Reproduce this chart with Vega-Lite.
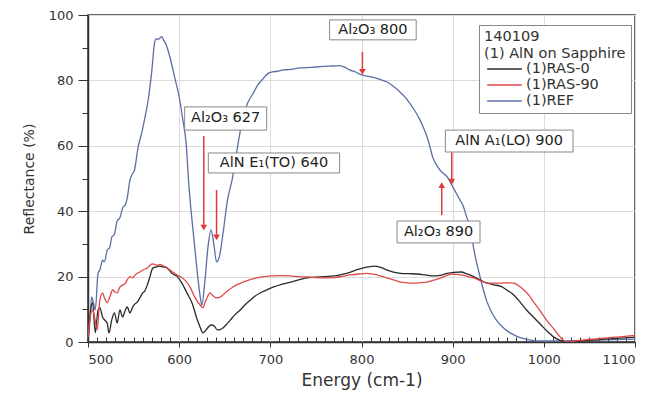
{
  "$schema": "https://vega.github.io/schema/vega-lite/v6.json",
  "width": 547,
  "height": 327,
  "autosize": {"type": "none"},
  "padding": {"left": 88, "top": 15, "right": 33, "bottom": 54},
  "background": "white",
  "config": {
    "font": "DejaVu Sans",
    "view": {"stroke": "#333", "strokeWidth": 1.5},
    "axis": {"labelFont": "DejaVu Sans", "titleFont": "DejaVu Sans", "labelColor": "#333", "titleColor": "#333", "labelFontSize": 13, "titleFontSize": 14, "titleFontWeight": "normal", "domainColor": "#333", "tickColor": "#333", "gridColor": "#dcdcdc", "domainWidth": 1.5}
  },
  "datasets": {
    "curves": [
      {"s":"(1)REF","x":500,"y":0.5},{"s":"(1)REF","x":502,"y":6},{"s":"(1)REF","x":504,"y":13.8},{"s":"(1)REF","x":506,"y":12},{"s":"(1)REF","x":508,"y":9.8},{"s":"(1)REF","x":511,"y":21},{"s":"(1)REF","x":513,"y":22},{"s":"(1)REF","x":516,"y":25},{"s":"(1)REF","x":518,"y":24.5},{"s":"(1)REF","x":521,"y":28},{"s":"(1)REF","x":524,"y":29},{"s":"(1)REF","x":526,"y":32},{"s":"(1)REF","x":529,"y":33},{"s":"(1)REF","x":532,"y":37},{"s":"(1)REF","x":535,"y":38},{"s":"(1)REF","x":538,"y":41},{"s":"(1)REF","x":541,"y":42},{"s":"(1)REF","x":543,"y":44},{"s":"(1)REF","x":546,"y":49.5},{"s":"(1)REF","x":548,"y":51},{"s":"(1)REF","x":551,"y":52.6},{"s":"(1)REF","x":555,"y":59.6},{"s":"(1)REF","x":559,"y":64},{"s":"(1)REF","x":562,"y":68},{"s":"(1)REF","x":566,"y":74},{"s":"(1)REF","x":570,"y":83},{"s":"(1)REF","x":573,"y":91.5},{"s":"(1)REF","x":575,"y":92.8},{"s":"(1)REF","x":577,"y":92.5},{"s":"(1)REF","x":579,"y":93},{"s":"(1)REF","x":581,"y":93.4},{"s":"(1)REF","x":583,"y":92.3},{"s":"(1)REF","x":585,"y":91.4},{"s":"(1)REF","x":590,"y":87},{"s":"(1)REF","x":595,"y":81},{"s":"(1)REF","x":600,"y":75},{"s":"(1)REF","x":604,"y":68},{"s":"(1)REF","x":608,"y":59.6},{"s":"(1)REF","x":610,"y":50.5},{"s":"(1)REF","x":612,"y":43.4},{"s":"(1)REF","x":616,"y":32},{"s":"(1)REF","x":620,"y":21},{"s":"(1)REF","x":623,"y":14},{"s":"(1)REF","x":625,"y":11.3},{"s":"(1)REF","x":628,"y":18},{"s":"(1)REF","x":632,"y":30},{"s":"(1)REF","x":635,"y":34.3},{"s":"(1)REF","x":638,"y":30},{"s":"(1)REF","x":641,"y":24.5},{"s":"(1)REF","x":644,"y":26},{"s":"(1)REF","x":648,"y":33},{"s":"(1)REF","x":653,"y":43.4},{"s":"(1)REF","x":658,"y":49.5},{"s":"(1)REF","x":664,"y":59.6},{"s":"(1)REF","x":670,"y":68.8},{"s":"(1)REF","x":675,"y":73},{"s":"(1)REF","x":681,"y":76},{"s":"(1)REF","x":686,"y":78.5},{"s":"(1)REF","x":692,"y":80.5},{"s":"(1)REF","x":697,"y":82},{"s":"(1)REF","x":702,"y":82.6},{"s":"(1)REF","x":708,"y":82.8},{"s":"(1)REF","x":714,"y":83.2},{"s":"(1)REF","x":720,"y":83.3},{"s":"(1)REF","x":732,"y":83.8},{"s":"(1)REF","x":745,"y":84},{"s":"(1)REF","x":755,"y":84.2},{"s":"(1)REF","x":769,"y":84.4},{"s":"(1)REF","x":776,"y":84.5},{"s":"(1)REF","x":782,"y":84},{"s":"(1)REF","x":787,"y":83.2},{"s":"(1)REF","x":794,"y":82.5},{"s":"(1)REF","x":800,"y":81.7},{"s":"(1)REF","x":806,"y":81.3},{"s":"(1)REF","x":812,"y":81},{"s":"(1)REF","x":820,"y":80.3},{"s":"(1)REF","x":828,"y":79.5},{"s":"(1)REF","x":835,"y":78.2},{"s":"(1)REF","x":842,"y":76.5},{"s":"(1)REF","x":848,"y":74.8},{"s":"(1)REF","x":853,"y":73},{"s":"(1)REF","x":859,"y":70.5},{"s":"(1)REF","x":864,"y":68},{"s":"(1)REF","x":868,"y":65.5},{"s":"(1)REF","x":872,"y":62.7},{"s":"(1)REF","x":875,"y":59.8},{"s":"(1)REF","x":878,"y":56.6},{"s":"(1)REF","x":882,"y":54.3},{"s":"(1)REF","x":886,"y":52.6},{"s":"(1)REF","x":890,"y":51.5},{"s":"(1)REF","x":894,"y":50.5},{"s":"(1)REF","x":897,"y":49},{"s":"(1)REF","x":900,"y":47.5},{"s":"(1)REF","x":904,"y":45.5},{"s":"(1)REF","x":908,"y":43.4},{"s":"(1)REF","x":911,"y":42},{"s":"(1)REF","x":915,"y":38.5},{"s":"(1)REF","x":919,"y":35},{"s":"(1)REF","x":924,"y":27.2},{"s":"(1)REF","x":930,"y":20},{"s":"(1)REF","x":937,"y":12.8},{"s":"(1)REF","x":942,"y":9.5},{"s":"(1)REF","x":948,"y":6.7},{"s":"(1)REF","x":955,"y":4.5},{"s":"(1)REF","x":963,"y":2.8},{"s":"(1)REF","x":970,"y":1.8},{"s":"(1)REF","x":978,"y":1},{"s":"(1)REF","x":985,"y":0.6},{"s":"(1)REF","x":1000,"y":0.3},{"s":"(1)REF","x":1010,"y":0.3},{"s":"(1)REF","x":1030,"y":0.4},{"s":"(1)REF","x":1060,"y":0.6},{"s":"(1)REF","x":1100,"y":0.9},
      {"s":"(1)RAS-0","x":500,"y":0},{"s":"(1)RAS-0","x":502,"y":7.6},{"s":"(1)RAS-0","x":505,"y":12},{"s":"(1)RAS-0","x":508,"y":2.8},{"s":"(1)RAS-0","x":511,"y":9.8},{"s":"(1)RAS-0","x":513,"y":10.5},{"s":"(1)RAS-0","x":516,"y":7.6},{"s":"(1)RAS-0","x":519,"y":6.5},{"s":"(1)RAS-0","x":521,"y":5.8},{"s":"(1)RAS-0","x":523,"y":2.8},{"s":"(1)RAS-0","x":526,"y":6.7},{"s":"(1)RAS-0","x":529,"y":8.9},{"s":"(1)RAS-0","x":532,"y":5.8},{"s":"(1)RAS-0","x":535,"y":9.8},{"s":"(1)RAS-0","x":538,"y":7.6},{"s":"(1)RAS-0","x":540,"y":9},{"s":"(1)RAS-0","x":543,"y":10.7},{"s":"(1)RAS-0","x":546,"y":8.9},{"s":"(1)RAS-0","x":549,"y":10.7},{"s":"(1)RAS-0","x":551,"y":11.5},{"s":"(1)RAS-0","x":554,"y":12.2},{"s":"(1)RAS-0","x":557,"y":13.5},{"s":"(1)RAS-0","x":560,"y":15},{"s":"(1)RAS-0","x":562,"y":15.5},{"s":"(1)RAS-0","x":565,"y":17.4},{"s":"(1)RAS-0","x":568,"y":20},{"s":"(1)RAS-0","x":571,"y":22.6},{"s":"(1)RAS-0","x":575,"y":23},{"s":"(1)RAS-0","x":578,"y":23.2},{"s":"(1)RAS-0","x":581,"y":23},{"s":"(1)RAS-0","x":584,"y":22.9},{"s":"(1)RAS-0","x":587,"y":22.6},{"s":"(1)RAS-0","x":592,"y":21},{"s":"(1)RAS-0","x":598,"y":20},{"s":"(1)RAS-0","x":603,"y":18},{"s":"(1)RAS-0","x":608,"y":15.3},{"s":"(1)RAS-0","x":614,"y":12},{"s":"(1)RAS-0","x":620,"y":6.7},{"s":"(1)RAS-0","x":623,"y":4.5},{"s":"(1)RAS-0","x":626,"y":2.8},{"s":"(1)RAS-0","x":629,"y":3.5},{"s":"(1)RAS-0","x":632,"y":4.6},{"s":"(1)RAS-0","x":635,"y":5.2},{"s":"(1)RAS-0","x":638,"y":5},{"s":"(1)RAS-0","x":642,"y":3.7},{"s":"(1)RAS-0","x":645,"y":3.8},{"s":"(1)RAS-0","x":648,"y":4.3},{"s":"(1)RAS-0","x":652,"y":5.4},{"s":"(1)RAS-0","x":656,"y":6.7},{"s":"(1)RAS-0","x":661,"y":8.3},{"s":"(1)RAS-0","x":667,"y":9.8},{"s":"(1)RAS-0","x":672,"y":11.3},{"s":"(1)RAS-0","x":678,"y":12.8},{"s":"(1)RAS-0","x":683,"y":14},{"s":"(1)RAS-0","x":689,"y":15},{"s":"(1)RAS-0","x":695,"y":15.8},{"s":"(1)RAS-0","x":703,"y":16.8},{"s":"(1)RAS-0","x":712,"y":17.6},{"s":"(1)RAS-0","x":722,"y":18.3},{"s":"(1)RAS-0","x":731,"y":19},{"s":"(1)RAS-0","x":740,"y":19.6},{"s":"(1)RAS-0","x":750,"y":19.8},{"s":"(1)RAS-0","x":760,"y":20},{"s":"(1)RAS-0","x":770,"y":20.2},{"s":"(1)RAS-0","x":779,"y":20.7},{"s":"(1)RAS-0","x":788,"y":21.4},{"s":"(1)RAS-0","x":795,"y":22.1},{"s":"(1)RAS-0","x":801,"y":22.6},{"s":"(1)RAS-0","x":808,"y":23},{"s":"(1)RAS-0","x":814,"y":23.2},{"s":"(1)RAS-0","x":821,"y":22.8},{"s":"(1)RAS-0","x":828,"y":22},{"s":"(1)RAS-0","x":835,"y":21.4},{"s":"(1)RAS-0","x":843,"y":21},{"s":"(1)RAS-0","x":852,"y":20.9},{"s":"(1)RAS-0","x":861,"y":20.8},{"s":"(1)RAS-0","x":870,"y":20.5},{"s":"(1)RAS-0","x":879,"y":20.2},{"s":"(1)RAS-0","x":886,"y":20.4},{"s":"(1)RAS-0","x":894,"y":21},{"s":"(1)RAS-0","x":901,"y":21.3},{"s":"(1)RAS-0","x":909,"y":21.4},{"s":"(1)RAS-0","x":916,"y":20.8},{"s":"(1)RAS-0","x":923,"y":20},{"s":"(1)RAS-0","x":930,"y":19},{"s":"(1)RAS-0","x":938,"y":18},{"s":"(1)RAS-0","x":945,"y":17.5},{"s":"(1)RAS-0","x":953,"y":17},{"s":"(1)RAS-0","x":960,"y":15.8},{"s":"(1)RAS-0","x":967,"y":14.4},{"s":"(1)RAS-0","x":974,"y":12.2},{"s":"(1)RAS-0","x":981,"y":9.8},{"s":"(1)RAS-0","x":989,"y":7.5},{"s":"(1)RAS-0","x":997,"y":5.2},{"s":"(1)RAS-0","x":1004,"y":3.2},{"s":"(1)RAS-0","x":1011,"y":1.5},{"s":"(1)RAS-0","x":1018,"y":0.5},{"s":"(1)RAS-0","x":1025,"y":0},{"s":"(1)RAS-0","x":1040,"y":0.3},{"s":"(1)RAS-0","x":1060,"y":0.7},{"s":"(1)RAS-0","x":1080,"y":1.1},{"s":"(1)RAS-0","x":1100,"y":1.5},
      {"s":"(1)RAS-90","x":500,"y":1.5},{"s":"(1)RAS-90","x":502,"y":6.7},{"s":"(1)RAS-90","x":505,"y":9.8},{"s":"(1)RAS-90","x":507,"y":8},{"s":"(1)RAS-90","x":510,"y":3.7},{"s":"(1)RAS-90","x":513,"y":12.8},{"s":"(1)RAS-90","x":516,"y":15},{"s":"(1)RAS-90","x":518,"y":13.5},{"s":"(1)RAS-90","x":521,"y":12},{"s":"(1)RAS-90","x":524,"y":13.8},{"s":"(1)RAS-90","x":527,"y":15.9},{"s":"(1)RAS-90","x":530,"y":15.2},{"s":"(1)RAS-90","x":532,"y":15},{"s":"(1)RAS-90","x":535,"y":16.8},{"s":"(1)RAS-90","x":538,"y":17.4},{"s":"(1)RAS-90","x":541,"y":18},{"s":"(1)RAS-90","x":543,"y":19},{"s":"(1)RAS-90","x":546,"y":20},{"s":"(1)RAS-90","x":549,"y":19.6},{"s":"(1)RAS-90","x":551,"y":20.3},{"s":"(1)RAS-90","x":554,"y":21},{"s":"(1)RAS-90","x":557,"y":21.4},{"s":"(1)RAS-90","x":560,"y":22},{"s":"(1)RAS-90","x":563,"y":22.4},{"s":"(1)RAS-90","x":565,"y":22.6},{"s":"(1)RAS-90","x":568,"y":23.5},{"s":"(1)RAS-90","x":571,"y":23.9},{"s":"(1)RAS-90","x":574,"y":23.6},{"s":"(1)RAS-90","x":576,"y":23.5},{"s":"(1)RAS-90","x":579,"y":23.7},{"s":"(1)RAS-90","x":581,"y":23.5},{"s":"(1)RAS-90","x":585,"y":23},{"s":"(1)RAS-90","x":590,"y":22},{"s":"(1)RAS-90","x":595,"y":21},{"s":"(1)RAS-90","x":601,"y":20},{"s":"(1)RAS-90","x":606,"y":19},{"s":"(1)RAS-90","x":612,"y":16.8},{"s":"(1)RAS-90","x":617,"y":13.8},{"s":"(1)RAS-90","x":623,"y":11.3},{"s":"(1)RAS-90","x":626,"y":10.5},{"s":"(1)RAS-90","x":629,"y":12.5},{"s":"(1)RAS-90","x":634,"y":15},{"s":"(1)RAS-90","x":637,"y":14.2},{"s":"(1)RAS-90","x":641,"y":13.5},{"s":"(1)RAS-90","x":645,"y":13.7},{"s":"(1)RAS-90","x":648,"y":14.4},{"s":"(1)RAS-90","x":653,"y":15.6},{"s":"(1)RAS-90","x":659,"y":16.8},{"s":"(1)RAS-90","x":664,"y":17.6},{"s":"(1)RAS-90","x":670,"y":18.3},{"s":"(1)RAS-90","x":677,"y":19},{"s":"(1)RAS-90","x":685,"y":19.6},{"s":"(1)RAS-90","x":694,"y":20},{"s":"(1)RAS-90","x":703,"y":20.2},{"s":"(1)RAS-90","x":712,"y":20.3},{"s":"(1)RAS-90","x":722,"y":20.2},{"s":"(1)RAS-90","x":731,"y":20},{"s":"(1)RAS-90","x":740,"y":19.9},{"s":"(1)RAS-90","x":750,"y":19.7},{"s":"(1)RAS-90","x":760,"y":19.6},{"s":"(1)RAS-90","x":770,"y":19.7},{"s":"(1)RAS-90","x":779,"y":20.1},{"s":"(1)RAS-90","x":788,"y":20.5},{"s":"(1)RAS-90","x":797,"y":20.8},{"s":"(1)RAS-90","x":806,"y":21},{"s":"(1)RAS-90","x":812,"y":20.8},{"s":"(1)RAS-90","x":817,"y":20.5},{"s":"(1)RAS-90","x":822,"y":20.1},{"s":"(1)RAS-90","x":828,"y":19.6},{"s":"(1)RAS-90","x":835,"y":19},{"s":"(1)RAS-90","x":843,"y":18.3},{"s":"(1)RAS-90","x":850,"y":18.1},{"s":"(1)RAS-90","x":857,"y":18},{"s":"(1)RAS-90","x":864,"y":18.1},{"s":"(1)RAS-90","x":872,"y":18.3},{"s":"(1)RAS-90","x":879,"y":18.9},{"s":"(1)RAS-90","x":887,"y":19.6},{"s":"(1)RAS-90","x":893,"y":20.3},{"s":"(1)RAS-90","x":899,"y":20.8},{"s":"(1)RAS-90","x":904,"y":20.7},{"s":"(1)RAS-90","x":909,"y":20.5},{"s":"(1)RAS-90","x":916,"y":20.1},{"s":"(1)RAS-90","x":923,"y":19.6},{"s":"(1)RAS-90","x":930,"y":18.8},{"s":"(1)RAS-90","x":938,"y":18},{"s":"(1)RAS-90","x":945,"y":18},{"s":"(1)RAS-90","x":953,"y":18},{"s":"(1)RAS-90","x":960,"y":18.1},{"s":"(1)RAS-90","x":967,"y":18},{"s":"(1)RAS-90","x":972,"y":17.3},{"s":"(1)RAS-90","x":978,"y":16},{"s":"(1)RAS-90","x":984,"y":14.2},{"s":"(1)RAS-90","x":989,"y":12.2},{"s":"(1)RAS-90","x":996,"y":9.5},{"s":"(1)RAS-90","x":1003,"y":6.7},{"s":"(1)RAS-90","x":1011,"y":4},{"s":"(1)RAS-90","x":1018,"y":1.5},{"s":"(1)RAS-90","x":1025,"y":0},{"s":"(1)RAS-90","x":1040,"y":0.5},{"s":"(1)RAS-90","x":1060,"y":1},{"s":"(1)RAS-90","x":1080,"y":1.5},{"s":"(1)RAS-90","x":1100,"y":2}
    ],
    "labels": [
      {"label":"Al₂O₃ 627","x1":606,"x2":696,"y1":64.8,"y2":71.9},
      {"label":"AlN E₁(TO) 640","x1":632,"x2":776,"y1":51.7,"y2":57.8},
      {"label":"Al₂O₃ 800","x1":765,"x2":860,"y1":92.4,"y2":98.5},
      {"label":"AlN A₁(LO) 900","x1":892,"x2":1032,"y1":58.1,"y2":64.8},
      {"label":"Al₂O₃ 890","x1":839,"x2":930,"y1":30.3,"y2":37}
    ],
    "arrows": [
      {"x":627,"tail":63,"head":35,"dir":"down"},
      {"x":641,"tail":46.5,"head":32,"dir":"down"},
      {"x":801,"tail":88.7,"head":82.6,"dir":"down"},
      {"x":899,"tail":58,"head":49,"dir":"down"},
      {"x":888,"tail":38.8,"head":48,"dir":"up"}
    ]
  },
  "resolve": {"axis": {"x": "independent", "y": "independent"}},
  "layer": [
    {
      "data": {"name": "curves"},
      "mark": {"type": "line", "strokeWidth": 1.3, "clip": true, "interpolate": "monotone"},
      "encoding": {
        "x": {"field": "x", "type": "quantitative", "scale": {"domain": [500, 1100], "nice": false}, "title": "Energy (cm-1)",
              "axis": {"orient": "bottom", "values": [500,600,700,800,900,1000,1100], "format": "d", "grid": true, "tickSize": 5, "labelPadding": 6, "titlePadding": 6, "titleFontSize": 17}},
        "y": {"field": "y", "type": "quantitative", "scale": {"domain": [0, 100], "nice": false}, "title": "Reflectance (%)",
              "axis": {"orient": "left", "values": [0,20,40,60,80,100], "grid": true, "tickSize": 10, "labelPadding": 5, "titlePadding": 12}},
        "color": {"field": "s", "type": "nominal",
                  "scale": {"domain": ["(1)RAS-0","(1)RAS-90","(1)REF"], "range": ["#2a2a2a","#e04848","#5b6ea8"]},
                  "legend": {"title": ["140109", "(1) AlN on Sapphire"], "orient": "none", "legendX": 391, "legendY": 10,
                             "fillColor": "white", "strokeColor": "#888", "padding": 5,
                             "titleFontSize": 14.5, "titleFontWeight": "normal", "titleColor": "#333", "titleFont": "DejaVu Sans", "titleLineHeight": 17, "titlePadding": -2,
                             "labelFontSize": 14.5, "labelColor": "#333", "labelFont": "DejaVu Sans", "labelOffset": 12,
                             "symbolType": "M-2,0H2", "symbolSize": 300, "symbolOffset": 11, "symbolStrokeWidth": 1.5, "rowPadding": -1.5}}
      }
    },
    {
      "data": {"name": "labels"},
      "mark": {"type": "rect", "fill": "white", "stroke": "#888", "strokeWidth": 1},
      "encoding": {
        "x": {"field": "x1", "type": "quantitative", "axis": null},
        "x2": {"field": "x2"},
        "y": {"field": "y1", "type": "quantitative", "axis": null},
        "y2": {"field": "y2"}
      }
    },
    {
      "data": {"name": "labels"},
      "transform": [{"calculate": "(datum.x1 + datum.x2) / 2", "as": "xc"}, {"calculate": "(datum.y1 + datum.y2) / 2", "as": "yc"}],
      "mark": {"type": "text", "fontSize": 14.5, "color": "#222", "align": "center", "baseline": "middle", "font": "DejaVu Sans"},
      "encoding": {
        "x": {"field": "xc", "type": "quantitative", "axis": null},
        "y": {"field": "yc", "type": "quantitative", "axis": null},
        "text": {"field": "label"}
      }
    },
    {
      "data": {"name": "arrows"},
      "mark": {"type": "rule", "color": "#e03a3a", "strokeWidth": 1.5},
      "encoding": {
        "x": {"field": "x", "type": "quantitative",
              "axis": {"orient": "bottom", "values": [510,520,530,540,550,560,570,580,590,610,620,630,640,650,660,670,680,690,710,720,730,740,750,760,770,780,790,810,820,830,840,850,860,870,880,890,910,920,930,940,950,960,970,980,990,1010,1020,1030,1040,1050,1060,1070,1080,1090], "labels": false, "grid": false, "domain": false, "tickSize": -5, "title": null}},
        "y": {"field": "tail", "type": "quantitative",
              "axis": {"orient": "left", "values": [10,30,50,70,90], "labels": false, "grid": false, "domain": false, "tickSize": 6, "title": null}},
        "y2": {"field": "head"}
      }
    },
    {
      "data": {"name": "arrows"},
      "mark": {"type": "point", "filled": true, "color": "#e03a3a", "size": 45, "opacity": 1},
      "encoding": {
        "x": {"field": "x", "type": "quantitative", "axis": null},
        "y": {"field": "head", "type": "quantitative", "axis": null},
        "shape": {"field": "dir", "type": "nominal", "scale": {"domain": ["down","up"], "range": ["triangle-down","triangle-up"]}, "legend": null}
      }
    }
  ]
}
